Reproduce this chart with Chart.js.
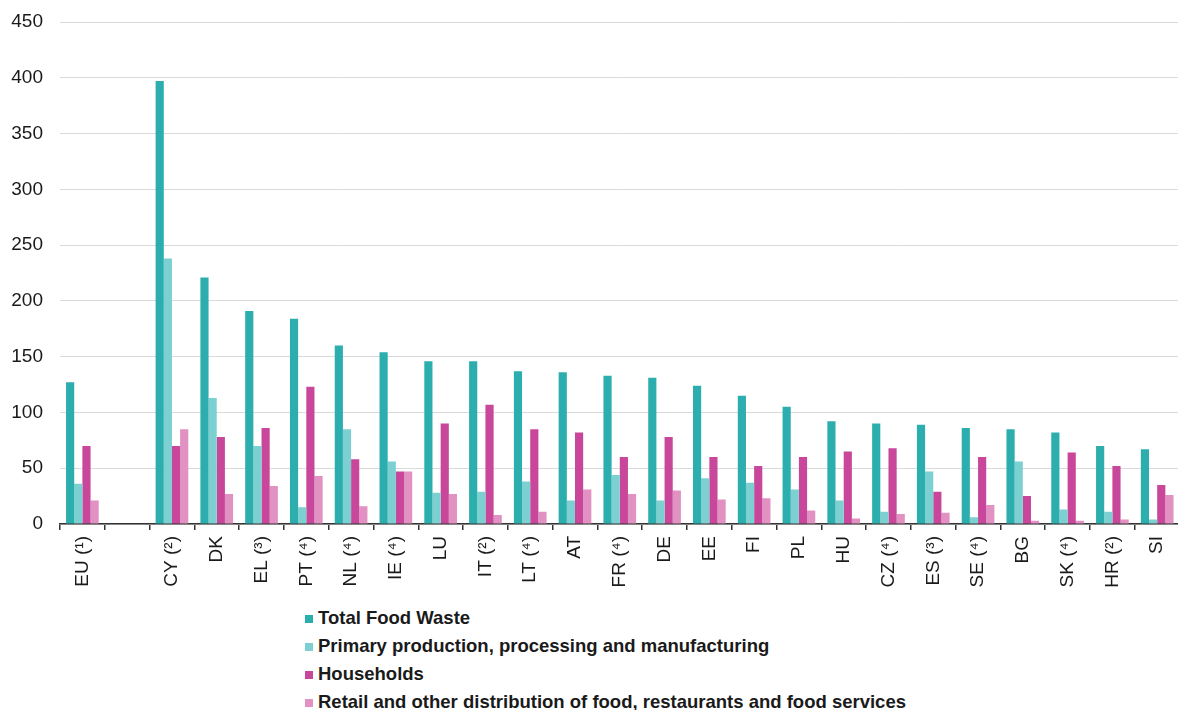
<!DOCTYPE html>
<html>
<head>
<meta charset="utf-8">
<script src="https://cdn.jsdelivr.net/npm/chart.js@4"></script>
<style>
    html, body { margin: 0; padding: 0; background: #fff; overflow: hidden; width: 1178px; height: 710px; }
    #wrap { position: relative; width: 1186px; height: 600px; }
    #legend { position: absolute; left: 305px; top: 604px; font: bold 18.5px "Liberation Sans", Arial, sans-serif; color: #1a1a1a; }
    #legend div { height: 28px; line-height: 28px; white-space: nowrap; }
    #legend span { display: inline-block; width: 8px; height: 8px; margin-right: 5px; vertical-align: 1px; }
</style>
</head>
<body>
<div id="wrap"><canvas id="chart"></canvas></div>
<div id="legend"></div>
<script>
// Kategori (negara) dan nilai per seri, dibaca dari gambar referensi.
const countries = ['EU (¹)', '', 'CY (²)', 'DK', 'EL (³)', 'PT (⁴)', 'NL (⁴)', 'IE (⁴)', 'LU', 'IT (²)', 'LT (⁴)', 'AT', 'FR (⁴)', 'DE', 'EE', 'FI', 'PL', 'HU', 'CZ (⁴)', 'ES (³)', 'SE (⁴)', 'BG', 'SK (⁴)', 'HR (²)', 'SI'];
const totalWaste = [127, null, 397, 221, 191, 184, 160, 154, 146, 146, 137, 136, 133, 131, 124, 115, 105, 92, 90, 89, 86, 85, 82, 70, 67];
const primaryProd = [36, null, 238, 113, 70, 15, 85, 56, 28, 29, 38, 21, 44, 21, 41, 37, 31, 21, 11, 47, 6, 56, 13, 11, 4];
const households = [70, null, 70, 78, 86, 123, 58, 47, 90, 107, 85, 82, 60, 78, 60, 52, 60, 65, 68, 29, 60, 25, 64, 52, 35];
const retailServices = [21, null, 85, 27, 34, 43, 16, 47, 27, 8, 11, 31, 27, 30, 22, 23, 12, 5, 9, 10, 17, 3, 3, 4, 26];
const yTicks = [0, 50, 100, 150, 200, 250, 300, 350, 400, 450];

const seriesNames = [
    'Total Food Waste',
    'Primary production, processing and manufacturing',
    'Households',
    'Retail and other distribution of food, restaurants and food services'
];
const seriesColors = ['#2BAEAD', '#7DD0D1', '#C8479A', '#E191C2'];
const seriesData = [totalWaste, primaryProd, households, retailServices];

const fontFamily = '"Liberation Sans", Arial, sans-serif';

const chart = new Chart(document.getElementById('chart'), {
    type: 'bar',
    data: {
        labels: countries,
        datasets: seriesData.map((d, i) => ({
            label: seriesNames[i],
            data: d,
            backgroundColor: seriesColors[i],
            borderWidth: 0,
            barPercentage: 1,
            categoryPercentage: 0.73
        }))
    },
    options: {
        responsive: true,
        maintainAspectRatio: false,
        animation: false,
        layout: { padding: { top: 22, right: 1, left: 0, bottom: 0 } },
        plugins: { legend: { display: false }, tooltip: { enabled: false } },
        scales: {
            x: {
                grid: { drawOnChartArea: false, drawTicks: true, tickLength: 6, color: '#333', offset: true, lineWidth: 1.5 },
                border: { display: true, color: '#333', width: 1.5 },
                ticks: {
                    autoSkip: false, maxRotation: 90, minRotation: 90, padding: 6,
                    color: '#1a1a1a', font: { family: fontFamily, size: 19 }
                },
                afterFit: s => { s.height = 76; }
            },
            y: {
                min: 0, max: 450,
                afterBuildTicks: s => { s.ticks = yTicks.map(v => ({ value: v })); },
                grid: { color: '#dadada', drawTicks: false },
                border: { display: false },
                ticks: { padding: 17, color: '#1a1a1a', font: { family: fontFamily, size: 19 } },
                // Lebar sumbu tetap; padding atas/bawah dari label tidak dipakai.
                afterFit: s => { s.width = 60; s.paddingTop = 0; s.paddingBottom = 0; }
            }
        }
    }
});

// Legenda vertikal dibuat dari dataset grafik.
document.getElementById('legend').innerHTML = chart.data.datasets.map(ds =>
    `<div><span style="background:${ds.backgroundColor}"></span>${ds.label}</div>`
).join('');
</script>
</body>
</html>
